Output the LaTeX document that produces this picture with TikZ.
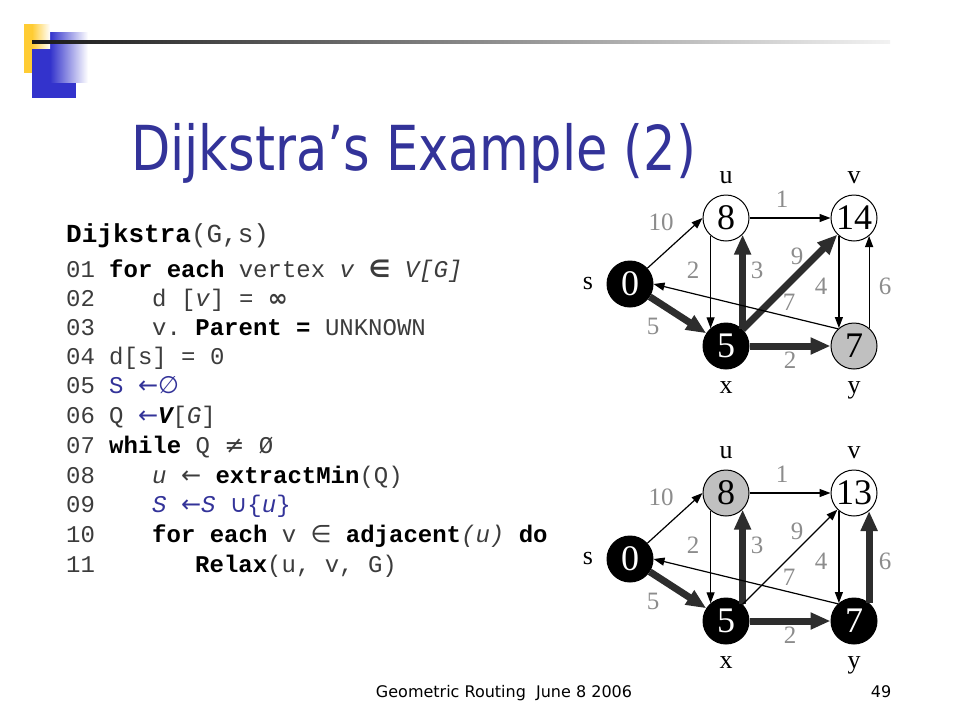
\documentclass[tikz,border=0pt]{standalone}
\usepackage{fontspec}
\setmainfont{Liberation Serif}
\setmonofont{Liberation Mono}
\newfontfamily\slidefont{DejaVu Sans Condensed}
\newfontfamily\symfont{DejaVu Sans}
\usetikzlibrary{arrows.meta}
\definecolor{slideblue}{RGB}{51,51,153}
\definecolor{logoblue}{RGB}{51,51,204}
\definecolor{logoyellow}{RGB}{255,204,51}
\definecolor{nodegray}{RGB}{192,192,192}
\definecolor{weightgray}{RGB}{140,140,140}
\definecolor{heavygray}{RGB}{45,45,45}
\definecolor{codegray}{RGB}{60,60,60}
\tikzstyle{vertex}=[circle, draw, line width=1pt, inner sep=0pt, minimum size=46pt, fill=white, font=\fontsize{36}{36}\selectfont]
\tikzstyle{settled}=[vertex, fill=black, text=white]
\tikzstyle{reached}=[vertex, fill=nodegray]
\tikzstyle{vname}=[anchor=base, inner sep=0pt, font=\fontsize{26}{26}\selectfont]
\tikzstyle{weight}=[inner sep=0pt, text=weightgray, font=\fontsize{25}{25}\selectfont]
\tikzstyle{light}=[draw, line width=1.2pt, -{Triangle[length=11pt,width=8pt]}]
\tikzstyle{heavy}=[draw=heavygray, line width=7pt, -{Triangle[length=20pt,width=16pt]}]
\tikzstyle{code}=[anchor=base west, inner sep=0pt, text=codegray, font=\fontsize{24}{28}\ttfamily]
\newcommand{\vertex}{\node[vertex]}
\newcommand{\sy}[1]{{\symfont #1}}

\begin{document}
\begin{tikzpicture}[x=1pt, y=-1pt]
\useasboundingbox (0,0) rectangle (960,720);
% logo and rule
\fill[logoblue] (32,32) rectangle (50,98);
\fill[logoblue] (32,82) rectangle (76,98);
\shade[left color=logoblue, right color=white] (50,32) rectangle (88,82);
\fill[logoyellow] (24,24) rectangle (32,73);
\shade[left color=logoyellow, right color=white] (32,24) rectangle (50,48);
\shade[left color=black!90, right color=black!5] (32,40) rectangle (890,43.5);
% title
\node[anchor=base west, inner sep=0pt, text=slideblue, font=\fontsize{62}{62}\slidefont] (title) at (131,170) {\scalebox{0.915}[1]{Dijkstra’s Example (2)}};
% pseudocode
\node[code, text=black, font=\fontsize{26}{30}\ttfamily] (head) at (66,242) {\textbf{Dijkstra}{\color{codegray}(G,s)}};
\node[code] (n01) at (66,277) {01};
\node[code] (l01) at (109,277) {\textbf{\color{black}for each} vertex \textit{v} \sy{\bfseries ∈} \textit{V[G]}};
\node[code] (n02) at (66,306) {02};
\node[code] (l02) at (152,306) {d [\textit{v}] = \sy{\bfseries ∞}};
\node[code] (n03) at (66,335) {03};
\node[code] (l03) at (152,335) {v. \textbf{\color{black}Parent =} UNKNOWN};
\node[code] (n04) at (66,364) {04};
\node[code] (l04) at (109,364) {d[s] = 0};
\node[code] (n05) at (66,393) {05};
\node[code, text=slideblue] (l05) at (109,393) {S \sy{←}\sy{∅}};
\node[code] (n06) at (66,423) {06};
\node[code] (l06) at (109,423) {Q \sy{\color{slideblue}←}\textbf{\textit{\color{black}V}}[\textit{G}]};
\node[code] (n07) at (66,453) {07};
\node[code] (l07) at (109,453) {\textbf{\color{black}while} Q \sy{≠} Ø};
\node[code] (n08) at (66,483) {08};
\node[code] (l08) at (152,483) {\textit{u} \sy{←} \textbf{\color{black}extractMin}(Q)};
\node[code] (n09) at (66,512) {09};
\node[code, text=slideblue] (l09) at (152,512) {\textit{S} \sy{←}\textit{S} \sy{∪}\{\textit{u}\}};
\node[code] (n10) at (66,542) {10};
\node[code] (l10) at (152,542) {\textbf{\color{black}for each} v \sy{∈} \textbf{\color{black}adjacent}\textit{(u)} \textbf{\color{black}do}};
\node[code] (n11) at (66,572) {11};
\node[code] (l11) at (195,572) {\textbf{\color{black}Relax}(u, v, G)};
% first graph
\node[settled] (s1) at (630,284) {0};
\vertex (u1) at (726,218) {8};
\vertex (v1) at (854,218) {14};
\node[settled] (x1) at (726,346) {5};
\node[reached] (y1) at (854,346) {7};
\node[vname] (su) at (726,183) {u};
\node[vname] (sv) at (854,183) {v};
\node[vname] (ss) at (588,289) {s};
\node[vname] (sx) at (726,393) {x};
\node[vname] (sy) at (854,393) {y};
\node[weight] (su1) at (661,222) {10};
\node[weight] (uv1) at (782,199) {1};
\node[weight] (ux1) at (693,270) {2};
\node[weight] (xu1) at (757,270) {3};
\node[weight] (xv1) at (797,256) {9};
\node[weight] (vy1) at (821,286) {4};
\node[weight] (yv1) at (885,286) {6};
\node[weight] (ys1) at (789,302) {7};
\node[weight] (sx1) at (653,326) {5};
\node[weight] (xy1) at (790,360) {2};
\path
    (s1) edge[light] (u1.west) edge[heavy] (x1)
    (u1) edge[light] (v1)
    (u1.229) edge[light] (x1.131)
    (x1.45) edge[heavy] (u1.315)
    (x1) edge[heavy] (v1) edge[heavy] (y1)
    (v1.230) edge[light] (y1.130)
    (y1.50) edge[light] (v1.310)
    (y1.133) edge[light] (s1.east)
;
% second graph
\begin{scope}[shift={(0,275)}]
\node[settled] (s2) at (630,284) {0};
\node[reached] (u2) at (726,218) {8};
\vertex (v2) at (854,218) {13};
\node[settled] (x2) at (726,346) {5};
\node[settled] (y2) at (854,346) {7};
\node[vname] (tu) at (726,183) {u};
\node[vname] (tv) at (854,183) {v};
\node[vname] (ts) at (588,289) {s};
\node[vname] (tx) at (726,393) {x};
\node[vname] (ty) at (854,393) {y};
\node[weight] (su2) at (661,222) {10};
\node[weight] (uv2) at (782,199) {1};
\node[weight] (ux2) at (693,270) {2};
\node[weight] (xu2) at (757,270) {3};
\node[weight] (xv2) at (797,256) {9};
\node[weight] (vy2) at (821,286) {4};
\node[weight] (yv2) at (885,286) {6};
\node[weight] (ys2) at (789,302) {7};
\node[weight] (sx2) at (653,326) {5};
\node[weight] (xy2) at (790,360) {2};
\path
    (s2) edge[light] (u2.west) edge[heavy] (x2)
    (u2) edge[light] (v2)
    (u2.229) edge[light] (x2.131)
    (x2.45) edge[heavy] (u2.315)
    (x2) edge[light] (v2) edge[heavy] (y2)
    (v2.230) edge[light] (y2.130)
    (y2.50) edge[heavy] (v2.310)
    (y2.133) edge[light] (s2.east)
;
\end{scope}
% footer
\node[anchor=base, inner sep=0pt, font=\fontsize{16}{16}\symfont] (foot) at (504,697) {Geometric Routing\ \ June 8 2006};
\node[anchor=base, inner sep=0pt, font=\fontsize{16}{16}\symfont] (page) at (881,697) {49};
\end{tikzpicture}
\end{document}
